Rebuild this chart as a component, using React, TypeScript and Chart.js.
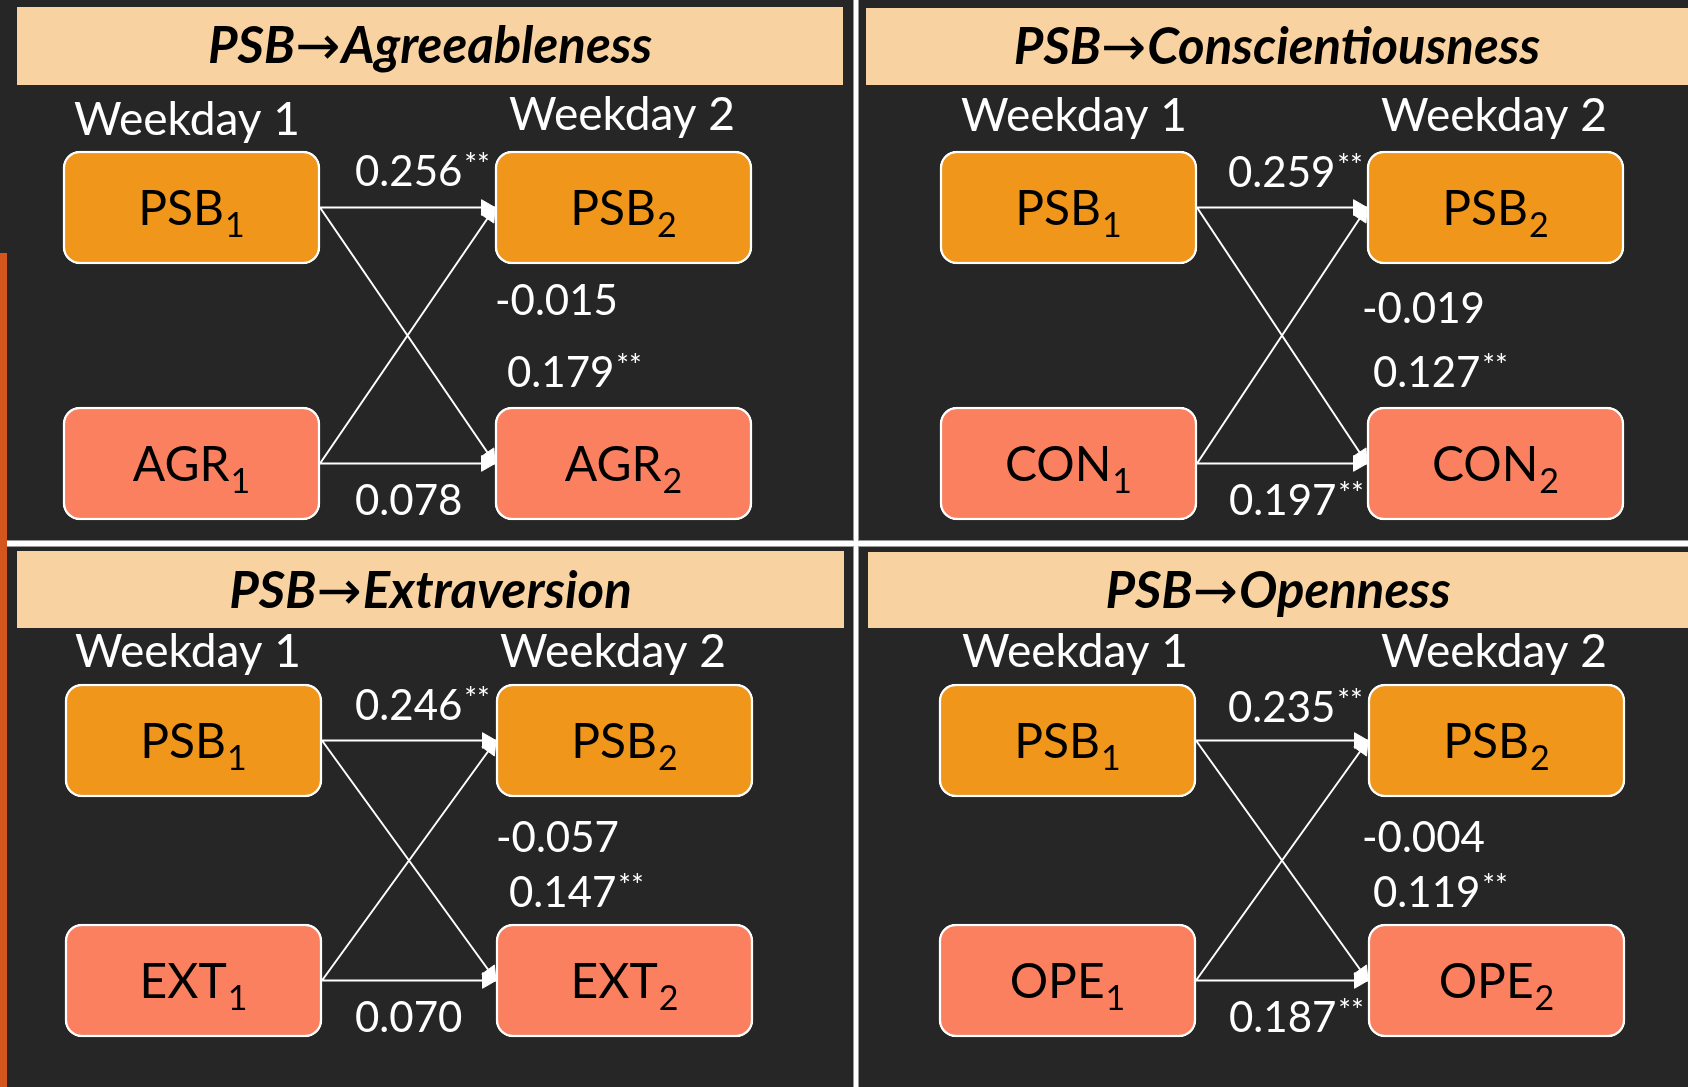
import React, { useEffect, useRef } from "react";
import { Chart, registerables } from "chart.js";

Chart.register(...registerables);

// ---------------- data ----------------
const panelTitleLeft = ["PSB", "PSB", "PSB", "PSB"];
const panelTitleArrow = "→";
const panelTitleRight = ["Agreeableness", "Conscientiousness", "Extraversion", "Openness"];
const psbCode = "PSB";
const traitCodes = ["AGR", "CON", "EXT", "OPE"];
const waveLabels = ["Weekday 1", "Weekday 2"];
const waveSubscripts = ["1", "2"];
const psbStability = [0.256, 0.259, 0.246, 0.235];
const psbStabilitySig = [true, true, true, true];
const traitStability = [0.078, 0.197, 0.07, 0.187];
const traitStabilitySig = [false, true, false, true];
const traitToPsb = [-0.015, -0.019, -0.057, -0.004];
const traitToPsbSig = [false, false, false, false];
const psbToTrait = [0.179, 0.127, 0.147, 0.119];
const psbToTraitSig = [true, true, true, true];

// ---------------- layout & style ----------------
const W = 1688;
const H = 1087;
const BOX_W = 257;
const BOX_H = 113;
const BG = "#262626";
const HEADER_BG = "#F8D3A1";
const PSB_COLOR = "#F0961A";
const TRAIT_COLOR = "#FA8060";
const STRIP_COLOR = "#D4561C";
const FONT = 'Lato, "DejaVu Sans", sans-serif';

type Layout = {
  header: [number, number, number, number];
  titleBase: number;
  cols: [number, number];
  rows: [number, number];
  waveX: [number, number];
  waveBase: [number, number];
  coef: { psbStab: [number, number]; traitToPsb: [number, number]; psbToTrait: [number, number]; traitStab: [number, number] };
};

const panelLayout: Layout[] = [
  {
    header: [17, 7, 843, 85], titleBase: 63, cols: [63, 495], rows: [151, 407],
    waveX: [187, 622], waveBase: [135, 130],
    coef: { psbStab: [355, 186], traitToPsb: [495, 315], psbToTrait: [507, 387], traitStab: [355, 515] },
  },
  {
    header: [866, 8, 1688, 85], titleBase: 64, cols: [940, 1367], rows: [151, 407],
    waveX: [1074, 1494], waveBase: [131, 131],
    coef: { psbStab: [1228, 187], traitToPsb: [1362, 323], psbToTrait: [1373, 387], traitStab: [1229, 515] },
  },
  {
    header: [17, 551, 844, 628], titleBase: 608, cols: [65, 496], rows: [684, 924],
    waveX: [188, 613], waveBase: [667, 667],
    coef: { psbStab: [355, 720], traitToPsb: [496, 852], psbToTrait: [509, 907], traitStab: [355, 1032] },
  },
  {
    header: [868, 552, 1688, 628], titleBase: 608, cols: [939, 1368], rows: [684, 924],
    waveX: [1075, 1494], waveBase: [667, 667],
    coef: { psbStab: [1228, 722], traitToPsb: [1362, 852], psbToTrait: [1373, 907], traitStab: [1229, 1032] },
  },
];

type Part = { t: string; font: string; dy: number; gap: number };

function drawRun(ctx: CanvasRenderingContext2D, parts: Part[], x: number, y: number, align: "left" | "center", color: string) {
  ctx.save();
  ctx.fillStyle = color;
  ctx.textAlign = "left";
  ctx.textBaseline = "alphabetic";
  const widths = parts.map((p) => {
    ctx.font = p.font;
    return ctx.measureText(p.t).width;
  });
  const total = widths.reduce((a, w, i) => a + w + parts[i].gap, 0);
  let cx = align === "center" ? x - total / 2 : x;
  parts.forEach((p, i) => {
    ctx.font = p.font;
    cx += p.gap;
    ctx.fillText(p.t, cx, y + p.dy);
    cx += widths[i];
  });
  ctx.restore();
}

function coefParts(v: number, sig: boolean): Part[] {
  const parts: Part[] = [{ t: v.toFixed(3), font: `42px ${FONT}`, dy: 0, gap: 0 }];
  if (sig) parts.push({ t: "**", font: `30px ${FONT}`, dy: -11, gap: 2 });
  return parts;
}

export default function App() {
  const canvasRef = useRef<HTMLCanvasElement | null>(null);

  useEffect(() => {
    const canvas = canvasRef.current;
    if (!canvas) return;

    const boxData: { x: number; y: [number, number] }[] = [];
    const boxColors: string[] = [];
    const boxLabels: { main: string; sub: string }[] = [];
    const lineData: { x: number; y: number | null }[] = [];
    const headData: { x: number; y: number }[] = [];
    const headRot: number[] = [];
    const HEAD_R = 9;

    panelLayout.forEach((p, pi) => {
      const codes = [psbCode, traitCodes[pi]];
      for (let row = 0; row < 2; row++) {
        for (let col = 0; col < 2; col++) {
          boxData.push({ x: p.cols[col] + BOX_W / 2, y: [p.rows[row], p.rows[row] + BOX_H] });
          boxColors.push(row === 0 ? PSB_COLOR : TRAIT_COLOR);
          boxLabels.push({ main: codes[row], sub: waveSubscripts[col] });
        }
      }
      const startX = p.cols[0] + BOX_W;
      const endX = p.cols[1];
      const midY = [p.rows[0] + BOX_H / 2, p.rows[1] + BOX_H / 2];
      const paths: [number, number][] = [[0, 0], [0, 1], [1, 0], [1, 1]];
      paths.forEach(([from, to]) => {
        const x0 = startX, y0 = midY[from], x1 = endX, y1 = midY[to];
        lineData.push({ x: x0, y: y0 }, { x: x1, y: y1 }, { x: x1, y: null });
        const dx = x1 - x0, dy = y1 - y0;
        const len = Math.hypot(dx, dy);
        headData.push({ x: x1 - (HEAD_R * dx) / len, y: y1 - (HEAD_R * dy) / len });
        headRot.push((Math.atan2(dx, -dy) * 180) / Math.PI);
      });
    });

    const decor = {
      id: "decor",
      beforeDraw(chart: any) {
        const ctx: CanvasRenderingContext2D = chart.ctx;
        const xs = chart.scales.x, ys = chart.scales.y;
        const px = (v: number) => xs.getPixelForValue(v);
        const py = (v: number) => ys.getPixelForValue(v);
        ctx.save();
        ctx.fillStyle = BG;
        ctx.fillRect(0, 0, chart.width, chart.height);
        ctx.fillStyle = STRIP_COLOR;
        ctx.fillRect(px(0), py(253), px(7) - px(0), py(H) - py(253));
        ctx.fillStyle = "#9a9a9a";
        ctx.fillRect(px(853), py(0), px(859) - px(853), py(H) - py(0));
        ctx.fillRect(px(7), py(540), px(W) - px(7), py(547) - py(540));
        ctx.fillStyle = "#ffffff";
        ctx.fillRect(px(854), py(0), px(858) - px(854), py(H) - py(0));
        ctx.fillRect(px(7), py(541), px(W) - px(7), py(546) - py(541));
        ctx.fillStyle = HEADER_BG;
        panelLayout.forEach((p) => {
          const [x0, y0, x1, y1] = p.header;
          ctx.fillRect(px(x0), py(y0), px(x1) - px(x0), py(y1) - py(y0));
        });
        ctx.restore();
      },
      afterDraw(chart: any) {
        const ctx: CanvasRenderingContext2D = chart.ctx;
        const xs = chart.scales.x, ys = chart.scales.y;
        const px = (v: number) => xs.getPixelForValue(v);
        const py = (v: number) => ys.getPixelForValue(v);
        panelLayout.forEach((p, pi) => {
          const [x0, , x1] = p.header;
          drawRun(
            ctx,
            [
              { t: panelTitleLeft[pi], font: `italic bold 51px ${FONT}`, dy: 0, gap: 0 },
              { t: panelTitleArrow, font: `54px "DejaVu Sans"`, dy: 1, gap: 0 },
              { t: panelTitleRight[pi], font: `italic bold 51px ${FONT}`, dy: 0, gap: 1 },
            ],
            px((x0 + x1) / 2),
            py(p.titleBase),
            "center",
            "#000"
          );
          waveLabels.forEach((w, wi) => {
            drawRun(ctx, [{ t: w, font: `46px ${FONT}`, dy: 0, gap: 0 }], px(p.waveX[wi]), py(p.waveBase[wi]), "center", "#fff");
          });
          const c = p.coef;
          drawRun(ctx, coefParts(psbStability[pi], psbStabilitySig[pi]), px(c.psbStab[0]), py(c.psbStab[1]), "left", "#fff");
          drawRun(ctx, coefParts(traitToPsb[pi], traitToPsbSig[pi]), px(c.traitToPsb[0]), py(c.traitToPsb[1]), "left", "#fff");
          drawRun(ctx, coefParts(psbToTrait[pi], psbToTraitSig[pi]), px(c.psbToTrait[0]), py(c.psbToTrait[1]), "left", "#fff");
          drawRun(ctx, coefParts(traitStability[pi], traitStabilitySig[pi]), px(c.traitStab[0]), py(c.traitStab[1]), "left", "#fff");
        });
        const meta = chart.getDatasetMeta(0);
        meta.data.forEach((el: any, i: number) => {
          const cy = (el.y + el.base) / 2;
          const lab = boxLabels[i];
          drawRun(
            ctx,
            [
              { t: lab.main, font: `48px ${FONT}`, dy: 0, gap: 0 },
              { t: lab.sub, font: `34px ${FONT}`, dy: 12, gap: 1 },
            ],
            el.x,
            cy + 17,
            "center",
            "#000"
          );
        });
      },
    };

    const chart = new Chart(canvas, {
      type: "bar",
      data: {
        datasets: [
          {
            type: "bar",
            data: boxData as any,
            backgroundColor: boxColors,
            borderColor: "#ffffff",
            borderWidth: 2.5,
            borderRadius: 17,
            borderSkipped: false,
            barThickness: BOX_W,
            grouped: false,
            order: 1,
          } as any,
          {
            type: "line",
            data: lineData as any,
            borderColor: "#ffffff",
            borderWidth: 2,
            pointRadius: 0,
            spanGaps: false,
            tension: 0,
            order: 2,
          } as any,
          {
            type: "line",
            data: headData as any,
            showLine: false,
            pointStyle: "triangle",
            pointRadius: HEAD_R,
            pointRotation: headRot,
            pointBackgroundColor: "#ffffff",
            pointBorderColor: "#ffffff",
            pointBorderWidth: 1,
            order: 0,
          } as any,
        ],
      },
      options: {
        responsive: false,
        animation: false,
        devicePixelRatio: 1,
        events: [],
        layout: { padding: 0, autoPadding: false },
        plugins: {
          legend: { display: false },
          tooltip: { enabled: false },
          title: { display: false },
        },
        scales: {
          x: { type: "linear", min: 0, max: W, display: false, offset: false, grid: { display: false } },
          y: { type: "linear", min: 0, max: H, reverse: true, display: false, grid: { display: false } },
        },
      } as any,
      plugins: [decor],
    });

    return () => chart.destroy();
  }, []);

  return (
    <div style={{ position: "fixed", left: 0, top: 0, width: W, height: H, background: BG }}>
      <canvas ref={canvasRef} width={W} height={H} style={{ display: "block", width: W, height: H }} />
    </div>
  );
}
